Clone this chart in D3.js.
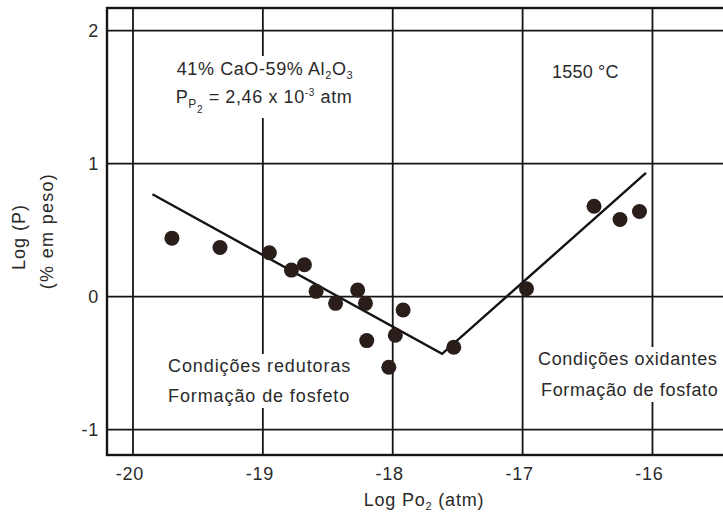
<!DOCTYPE html>
<html lang="pt">
<head>
<meta charset="UTF-8">
<title>Log P vs Log Po2</title>
<script src="https://d3js.org/d3.v7.min.js"></script>
<style>
  body { margin: 0; background: #fff; }
  text { font-family: "Liberation Sans", Arial, sans-serif; fill: #2a2a2a; font-size: 18px; letter-spacing: 0.8px; }
</style>
</head>
<body>
<svg id="chart" width="723" height="515"></svg>
<script>
// measured points: log Po2 (atm) and log P (% em peso)
const logPO2 = [-19.70, -19.33, -18.95, -18.78, -18.68, -18.59, -18.44, -18.27, -18.21,
                -17.92, -17.98, -18.20, -18.03, -17.53, -16.97, -16.45, -16.25, -16.10];
const logP   = [0.44, 0.37, 0.33, 0.20, 0.24, 0.04, -0.05, 0.05, -0.05,
                -0.10, -0.29, -0.33, -0.53, -0.38, 0.06, 0.68, 0.58, 0.64];

// fitted V-shaped curve
const curveX = [-19.85, -17.62, -16.05];
const curveY = [0.77, -0.43, 0.93];

const xTicks = [-20, -19, -18, -17, -16];
const yTicks = [-1, 0, 1, 2];

const svg = d3.select('#chart');
const mLeft = 107, mTop = 8, mBottom = 455, mRight = 733;

const x = d3.scaleLinear().domain([-20.2, -15.38]).range([mLeft, mRight]);
const y = d3.scaleLinear().domain([-1.19, 2.17]).range([mBottom, mTop]);

// grid
svg.append('g').selectAll('line').data(xTicks).join('line')
  .attr('x1', d => x(d)).attr('x2', d => x(d))
  .attr('y1', mTop).attr('y2', mBottom)
  .attr('stroke', '#151515').attr('stroke-width', 1.8);
svg.append('g').selectAll('line').data(yTicks).join('line')
  .attr('x1', mLeft).attr('x2', mRight)
  .attr('y1', d => y(d)).attr('y2', d => y(d))
  .attr('stroke', '#151515').attr('stroke-width', 1.8);

// frame
svg.append('rect')
  .attr('x', mLeft).attr('y', mTop)
  .attr('width', mRight - mLeft).attr('height', mBottom - mTop)
  .attr('fill', 'none').attr('stroke', '#151515').attr('stroke-width', 2.4);

// tick labels
svg.append('g').selectAll('text').data(xTicks).join('text')
  .attr('x', d => x(d) - 3).attr('y', 480)
  .attr('text-anchor', 'middle')
  .text(d => d);
svg.append('g').selectAll('text').data(yTicks).join('text')
  .attr('x', 99).attr('y', d => y(d) + 6)
  .attr('text-anchor', 'end')
  .text(d => d);

// axis titles
const xt = svg.append('text').attr('x', 424).attr('y', 506)
  .attr('text-anchor', 'middle');
xt.append('tspan').text('Log Po');
xt.append('tspan').attr('font-size', 11).attr('dy', 4).text('2');
xt.append('tspan').attr('dy', -4).text(' (atm)');

svg.append('text').attr('transform', 'translate(25,237) rotate(-90)')
  .attr('text-anchor', 'middle').style('letter-spacing', '1px').text('Log (P)');
svg.append('text').attr('transform', 'translate(53,231) rotate(-90)')
  .attr('text-anchor', 'middle').style('letter-spacing', '1.3px').text('(% em peso)');

// annotation blocks (white background breaks the grid)
function block(g, pad) {
  const b = g.node().getBBox();
  g.insert('rect', ':first-child')
    .attr('x', b.x - pad[0]).attr('y', b.y - pad[1])
    .attr('width', b.width + 2 * pad[0]).attr('height', b.height + 2 * pad[1])
    .attr('fill', '#fff');
}

const g1 = svg.append('g');
const l1 = g1.append('text').attr('x', 265).attr('y', 75)
  .attr('text-anchor', 'middle').attr('font-size', 17.5).style('letter-spacing', '0.6px');
l1.append('tspan').text('41% CaO-59% Al');
l1.append('tspan').attr('font-size', 11).attr('dy', 4).text('2');
l1.append('tspan').attr('dy', -4).text('O');
l1.append('tspan').attr('font-size', 11).attr('dy', 4).text('3');
const l2 = g1.append('text').attr('x', 264).attr('y', 103)
  .attr('text-anchor', 'middle').attr('font-size', 17.5).style('letter-spacing', '0.6px');
l2.append('tspan').text('P');
l2.append('tspan').attr('font-size', 12).attr('dy', 5).text('P');
l2.append('tspan').attr('font-size', 10).attr('dy', 5).text('2');
l2.append('tspan').attr('dy', -10).text(' = 2,46 x 10');
l2.append('tspan').attr('font-size', 10).attr('dy', -7).text('-3');
l2.append('tspan').attr('dy', 7).text(' atm');
block(g1, [2, 3]);

svg.append('text').attr('x', 552).attr('y', 78)
  .style('letter-spacing', '0.2px').text('1550 °C');

const g2 = svg.append('g');
g2.append('text').attr('x', 168).attr('y', 372).style('letter-spacing', '0.9px').text('Condições redutoras');
g2.append('text').attr('x', 168).attr('y', 402).style('letter-spacing', '0.9px').text('Formação de fosfeto');
block(g2, [2, 2]);

const g3 = svg.append('g');
g3.append('text').attr('x', 538).attr('y', 365).style('letter-spacing', '0.65px').text('Condições oxidantes');
g3.append('text').attr('x', 541).attr('y', 396).style('letter-spacing', '0.65px').text('Formação de fosfato');
block(g3, [2, 2]);

// curve
const curve = curveX.map((v, i) => [v, curveY[i]]);
svg.append('path')
  .attr('d', d3.line().x(d => x(d[0])).y(d => y(d[1]))(curve))
  .attr('fill', 'none').attr('stroke', '#141414').attr('stroke-width', 2.4);

// points
svg.append('g').selectAll('circle').data(logPO2.map((v, i) => [v, logP[i]])).join('circle')
  .attr('cx', d => x(d[0])).attr('cy', d => y(d[1]))
  .attr('r', 7.5)
  .attr('fill', '#2a1e1b');
</script>
</body>
</html>
